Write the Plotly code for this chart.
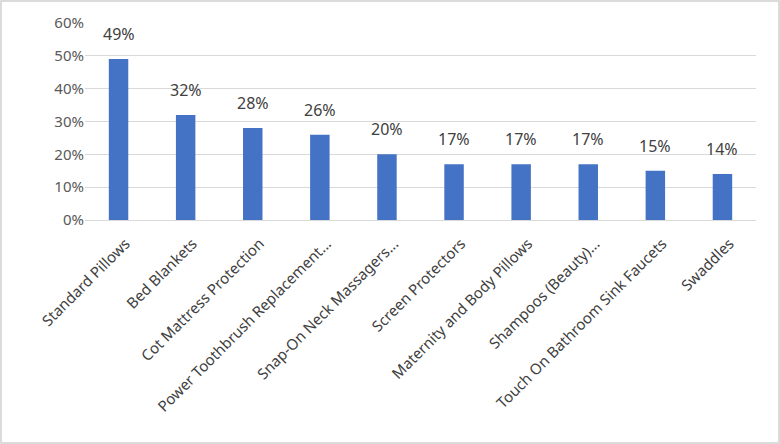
import plotly.graph_objects as go

categories = ["Standard Pillows", "Bed Blankets", "Cot Mattress Protection",
              "Power Toothbrush Replacement...", "Snap-On Neck Massagers...",
              "Screen Protectors", "Maternity and Body Pillows", "Shampoos (Beauty)...",
              "Touch On Bathroom Sink Faucets", "Swaddles"]
values = [0.49, 0.32, 0.28, 0.26, 0.20, 0.17, 0.17, 0.17, 0.15, 0.14]
labels = [f"{round(v*100)}%" for v in values]

W, H = 780, 444
L, R, T, B = 85, 24, 23, 224

fig = go.Figure(go.Bar(
    x=categories, y=values,
    marker=dict(color="#4472C4", line=dict(width=0)),
    width=0.29,
))

for c, v, t in zip(categories, values, labels):
    fig.add_annotation(x=c, y=v, text=t, showarrow=False, yanchor="bottom",
                       yshift=12, font=dict(size=16, color="#404040", family="Noto Sans"))

pw = W - L - R
ph = H - T - B
fig.add_shape(type="rect", xref="paper", yref="paper",
              x0=-(L - 1) / pw, x1=1 + (R - 1) / pw,
              y0=-(B - 1) / ph, y1=1 + (T - 1) / ph,
              line=dict(color="#d0d0d0", width=1.5), fillcolor="rgba(0,0,0,0)")

fig.update_layout(
    width=W, height=H, margin=dict(l=L, r=R, t=T, b=B),
    paper_bgcolor="white", plot_bgcolor="white", showlegend=False,
    font=dict(family="Noto Sans", color="#404040"),
    xaxis=dict(tickangle=-45, tickfont=dict(size=15, color="#404040"),
               showgrid=False, showline=True, linecolor="#d9d9d9", ticks="",
               ticklabelstandoff=8, ticklabelshift=7),
    yaxis=dict(range=[0, 0.6], dtick=0.1, tickformat=".0%",
               tickfont=dict(size=15, color="#595959"),
               showgrid=True, gridcolor="#d9d9d9", zeroline=False, ticks=""),
    bargap=0.71,
)

fig.write_html("out.html")
